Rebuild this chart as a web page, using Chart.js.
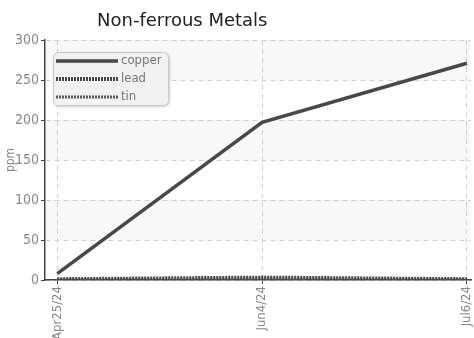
<!DOCTYPE html>
<html>
<head>
<meta charset="utf-8">
<script src="https://cdn.jsdelivr.net/npm/chart.js@4"></script>
<style>
  html, body { margin: 0; padding: 0; background: #fff; }
  #wrap { position: relative; width: 474px; height: 338px; }
</style>
</head>
<body>
<div id="wrap"><canvas id="metals" width="474" height="338"></canvas></div>
<script>
// data
const dates  = ['Apr25/24', 'Jun4/24', 'Jul6/24'];
const copper = [8, 197, 271];
const lead   = [1, 3, 1];
const tin    = [0.5, 1.5, 0.5];
const yTicks = [0, 50, 100, 150, 200, 250, 300];

const NARROW = '"Liberation Sans Narrow", "DejaVu Sans Condensed", sans-serif';

// striped background + title + legend box
const decor = {
  id: 'decor',
  beforeDraw(chart) {
    const { ctx, chartArea: a, scales: { y } } = chart;
    ctx.save();
    ctx.fillStyle = '#f8f8f8';
    [[250, 300], [150, 200], [50, 100]].forEach(([lo, hi]) => {
      const t = y.getPixelForValue(hi), b = y.getPixelForValue(lo);
      ctx.fillRect(a.left, t, a.right - a.left, b - t);
    });
    ctx.restore();
  },
  afterDraw(chart) {
    const { ctx } = chart;
    ctx.save();
    // title
    ctx.fillStyle = '#222';
    ctx.font = '18px "DejaVu Sans", sans-serif';
    ctx.textBaseline = 'alphabetic';
    ctx.fillText('Non-ferrous Metals', 97, 26);

    // legend box
    const bx = 53.5, by = 52.5, bw = 115, bh = 53;
    ctx.shadowColor = 'rgba(0,0,0,0.25)';
    ctx.shadowBlur = 3;
    ctx.shadowOffsetX = 1;
    ctx.shadowOffsetY = 1;
    ctx.beginPath();
    ctx.roundRect(bx, by, bw, bh, 5);
    ctx.fillStyle = '#f1f1f1';
    ctx.fill();
    ctx.shadowColor = 'transparent';
    ctx.strokeStyle = '#c8c8c8';
    ctx.lineWidth = 1;
    ctx.stroke();

    chart.data.datasets.forEach((ds, i) => {
      const ly = 61 + i * 18;
      ctx.beginPath();
      ctx.setLineDash(ds.borderDash || []);
      ctx.lineWidth = ds.borderWidth;
      ctx.strokeStyle = ds.borderColor;
      ctx.moveTo(56, ly);
      ctx.lineTo(118, ly);
      ctx.stroke();
      ctx.setLineDash([]);
      ctx.fillStyle = '#777';
      ctx.font = '13px ' + NARROW;
      ctx.textBaseline = 'middle';
      ctx.fillText(ds.label, 121, ly);
    });
    ctx.restore();
  }
};

const pts = arr => arr.map((v, i) => ({ x: i, y: v }));

const gridStyle = {
  color: '#d0d0d0', tickLength: 4,
  tickColor: '#444', tickBorderDash: [], tickWidth: 1
};

new Chart(document.getElementById('metals'), {
  type: 'line',
  data: {
    datasets: [
      { label: 'copper', data: pts(copper), borderColor: '#484848', borderWidth: 3.5, borderDash: [] },
      { label: 'lead',   data: pts(lead),   borderColor: '#484848', borderWidth: 4, borderDash: [2, 1] },
      { label: 'tin',    data: pts(tin),    borderColor: '#585858', borderWidth: 3, borderDash: [2, 1] }
    ]
  },
  options: {
    responsive: false,
    animation: false,
    layout: { padding: { top: 40, right: 3, left: 4, bottom: 0 } },
    elements: { point: { radius: 0 }, line: { tension: 0 } },
    plugins: { legend: { display: false }, title: { display: false }, tooltip: { enabled: false } },
    scales: {
      x: {
        type: 'linear',
        min: -0.06,
        max: 2.02,
        afterBuildTicks: s => { s.ticks = dates.map((d, i) => ({ value: i })); },
        afterFit: s => { s.height = 58; s.paddingLeft = 0; s.paddingRight = 0; },
        ticks: {
          minRotation: 90, maxRotation: 90,
          color: '#888',
          font: { family: NARROW, size: 13 },
          padding: 2,
          callback: v => dates[v]
        },
        grid: gridStyle,
        border: { color: '#444', width: 1.5, dash: [5, 4] }
      },
      y: {
        min: 0, max: 300,
        afterBuildTicks: s => { s.ticks = yTicks.map(v => ({ value: v })); },
        afterFit: s => { s.width = 41; s.paddingTop = 0; s.paddingBottom = 0; },
        title: { display: true, text: 'ppm', color: '#888', font: { family: NARROW, size: 12 }, padding: { top: 0, bottom: 2 } },
        ticks: { color: '#888', font: { family: NARROW, size: 14 }, padding: 2 },
        grid: gridStyle,
        border: { color: '#444', width: 1.5, dash: [5, 4] }
      }
    }
  },
  plugins: [decor]
});
</script>
</body>
</html>
